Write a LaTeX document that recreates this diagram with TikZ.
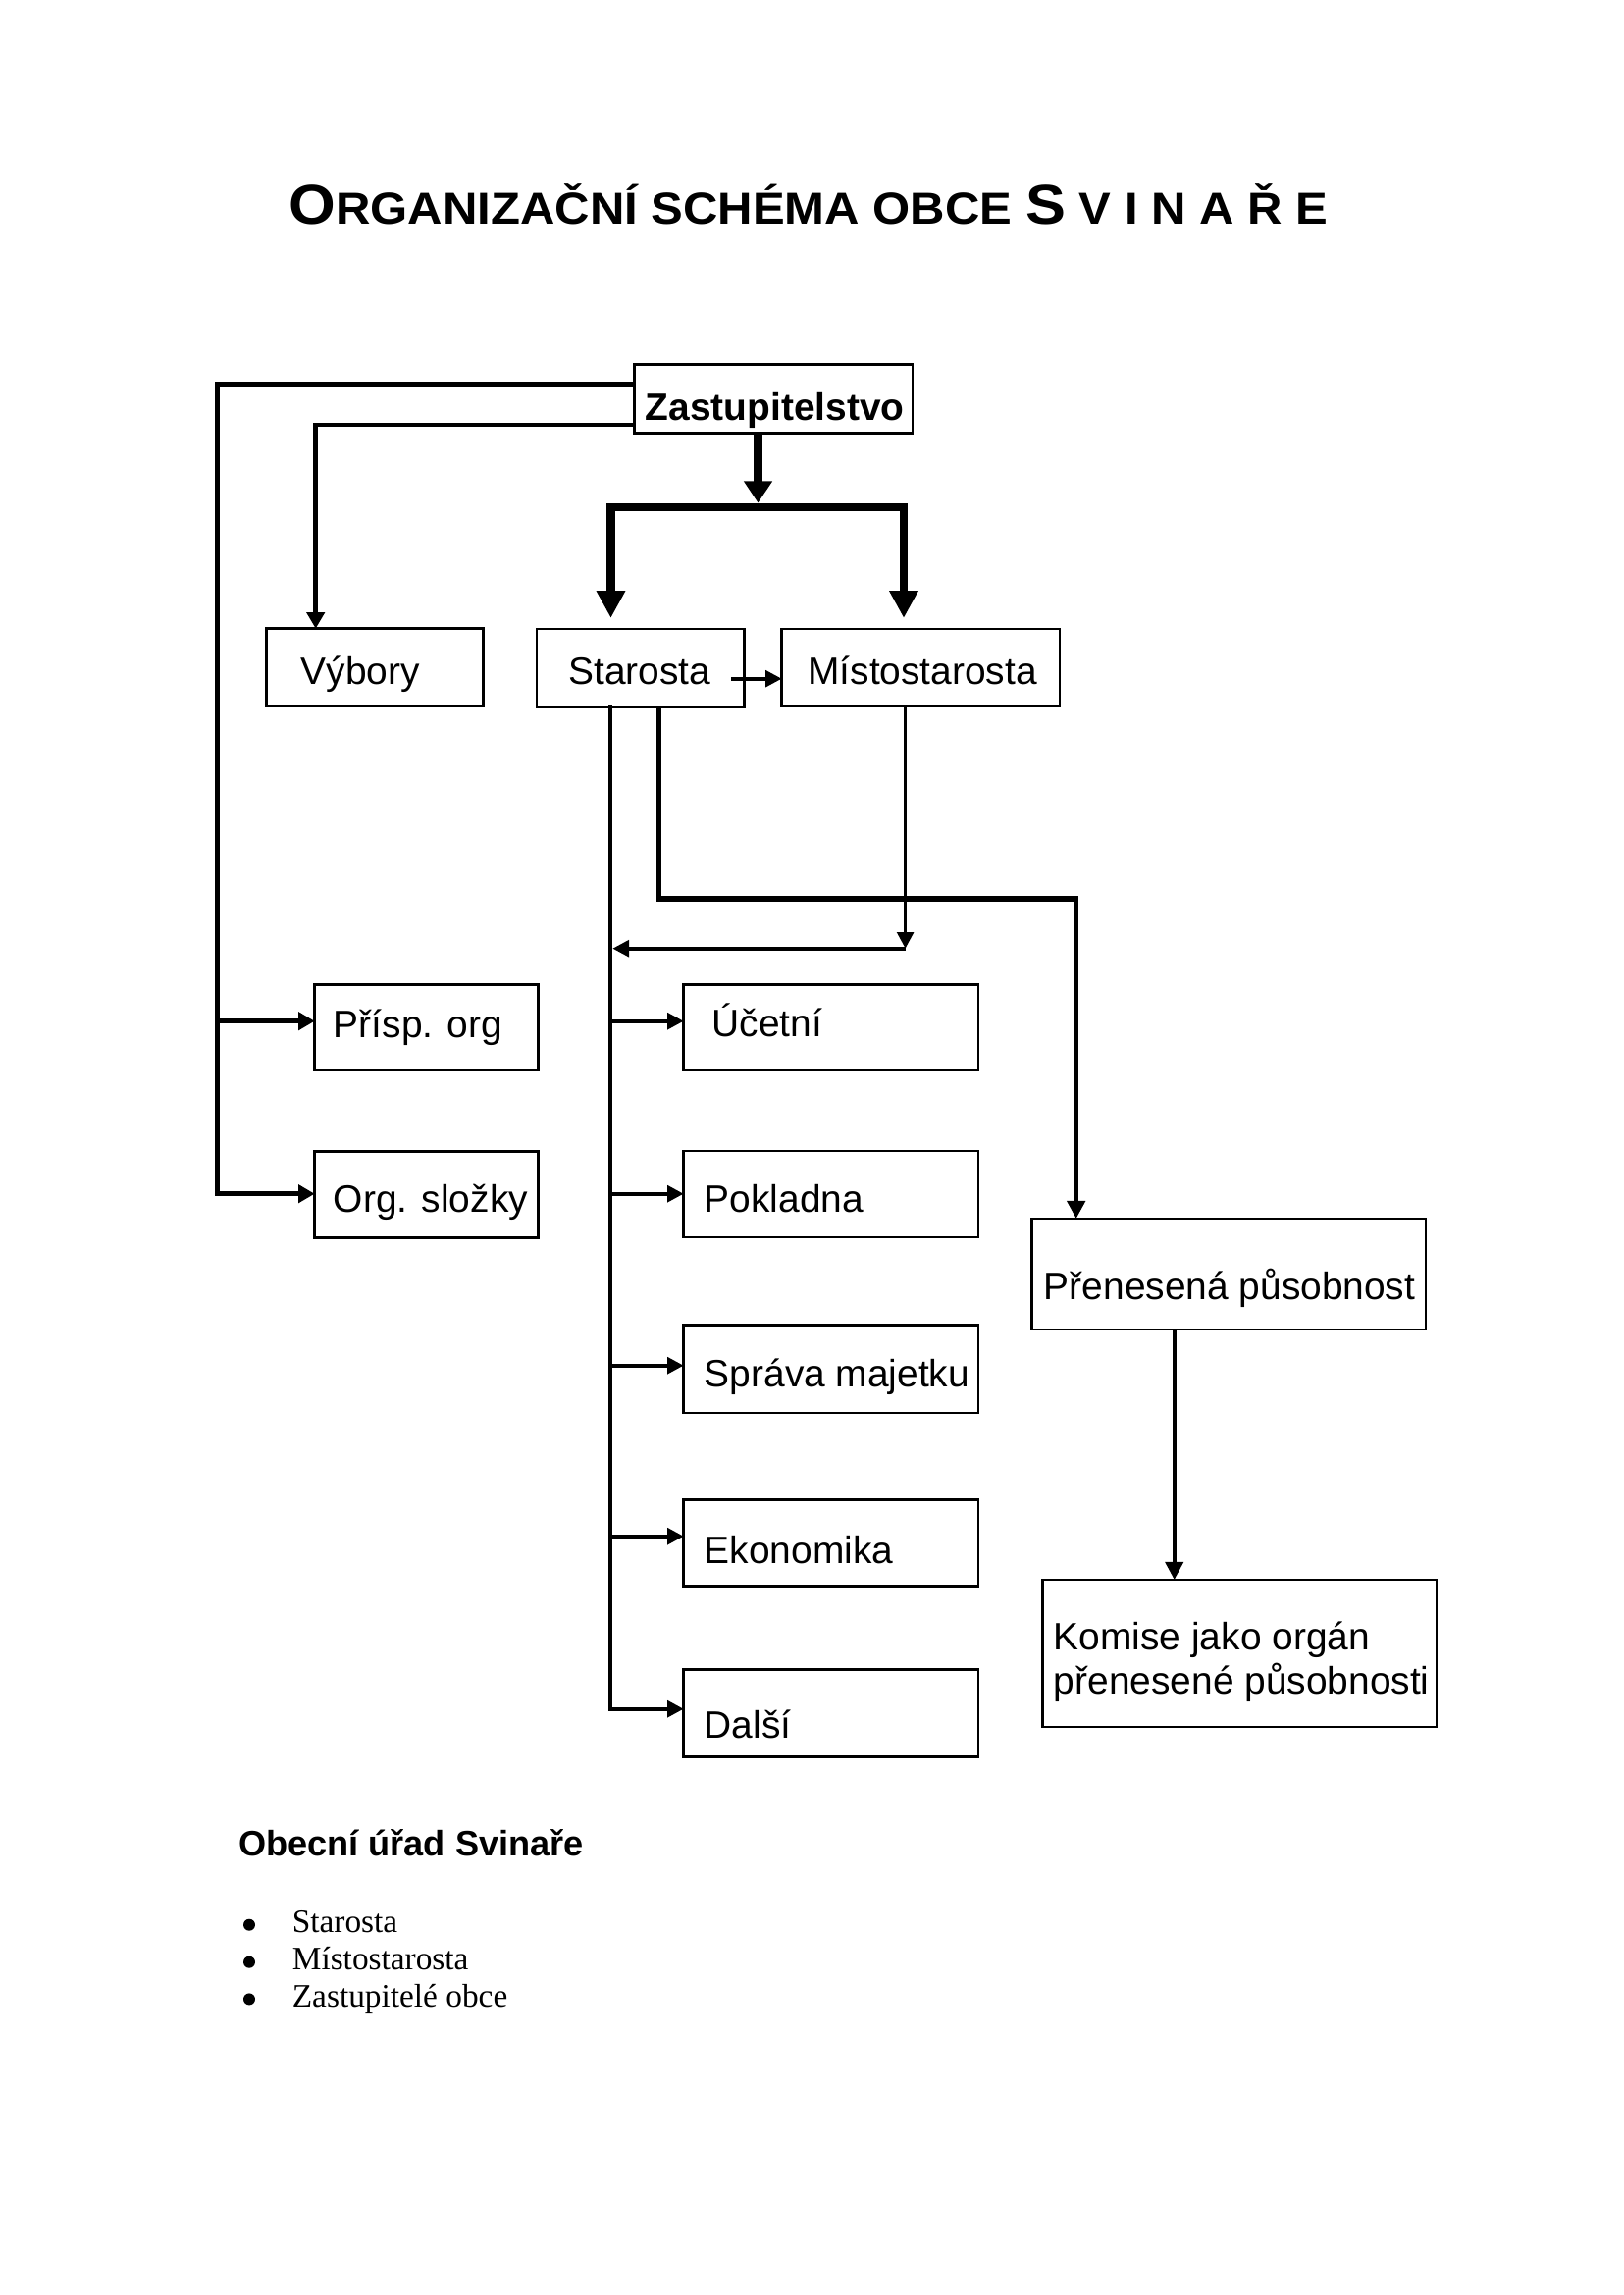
\documentclass[tikz,border=0pt]{standalone}
\usepackage{fontspec}
\setmainfont{Liberation Sans}
\newfontfamily\serifont{Liberation Serif}
\usepackage{graphicx}
\usetikzlibrary{arrows.meta}
\begin{document}
\begin{tikzpicture}[x=0.35991pt,y=-0.35991pt,
  box/.style={draw, line width=1pt, rectangle, inner sep=0pt, outer sep=0pt},
  lbl/.style={anchor=base west, inner sep=0pt, font=\fontsize{14}{16}\selectfont},
  mainln/.style={line width=1.7pt},
  medarr/.style={line width=1.7pt, -{Triangle[length=6pt,width=6.5pt]}},
  brarr/.style={line width=1.4pt, -{Triangle[length=6pt,width=6pt]}},
  thinarr/.style={line width=1.3pt, -{Triangle[length=6pt,width=6pt]}},
  itm/.style={anchor=base west, inner sep=0pt, font=\serifont\fontsize{12}{14}\selectfont},
]
\path[fill=white] (0,0) rectangle (1654,2339);
\useasboundingbox (0,0) rectangle (1654,2339);

% title
\node[anchor=base west, inner sep=0pt] (title) at (294,229)
  {\resizebox{381pt}{1.14\height}{\bfseries\fontsize{18}{20}\selectfont O\fontsize{14.4}{16}\selectfont RGANIZAČNÍ SCHÉMA OBCE \fontsize{18}{20}\selectfont S\fontsize{14.4}{16}\selectfont\ V I N A Ř E}};

% boxes
\node[box, minimum width=101.96pt, minimum height=25.19pt] (Zast) at (788.35,406.7) {};
\node[box, minimum width=79.72pt, minimum height=28.54pt] (Vyb) at (381.95,680.35) {};
\node[box, minimum width=76.05pt, minimum height=28.79pt] (Star) at (652.65,681) {};
\node[box, minimum width=101.96pt, minimum height=28.43pt] (Mist) at (938.35,680.5) {};
\node[box, minimum width=81.92pt, minimum height=31.46pt] (Prisp) at (434.5,1047) {};
\node[box, minimum width=81.92pt, minimum height=31.82pt] (Org) at (434.5,1217.5) {};
\node[box, minimum width=108.08pt, minimum height=31.46pt] (Uc) at (846.85,1047) {};
\node[box, minimum width=108.08pt, minimum height=31.67pt] (Pok) at (846.85,1217) {};
\node[box, minimum width=108.08pt, minimum height=32.14pt] (Spr) at (846.85,1395.35) {};
\node[box, minimum width=108.08pt, minimum height=31.82pt] (Eko) at (846.85,1572.5) {};
\node[box, minimum width=108.08pt, minimum height=32.03pt] (Dal) at (846.85,1746.2) {};
\node[box, minimum width=144.43pt, minimum height=40.67pt] (Pren) at (1252.35,1298.5) {};
\node[box, minimum width=144.43pt, minimum height=53.99pt] (Kom) at (1263.35,1685) {};

% box labels
\node[lbl, font=\bfseries\fontsize{14}{16}\selectfont] (tZast) at (657.3,428.5) {Zastupitelstvo};
\node[lbl] (tVyb) at (306.2,697.5) {Výbory};
\node[lbl] (tStar) at (578.8,697.5) {Starosta};
\node[lbl] (tMist) at (822.8,697.5) {Místostarosta};
\node[lbl] (tPrisp) at (339.3,1057) {Přísp. org};
\node[lbl] (tOrg) at (339.3,1235) {Org. složky};
\node[lbl] (tUc) at (725.2,1056) {Účetní};
\node[lbl] (tPok) at (717.3,1235) {Pokladna};
\node[lbl] (tSpr) at (717.3,1413.3) {Správa majetku};
\node[lbl] (tEko) at (717.3,1593.3) {Ekonomika};
\node[lbl] (tDal) at (717.3,1771.7) {Další};
\node[lbl] (tPren) at (1063.3,1324.3) {Přenesená působnost};
\node[lbl] (tKom1) at (1073.3,1681.4) {Komise jako orgán};
\node[lbl] (tKom2) at (1073.3,1726.4) {přenesené působnosti};

% coordinates
\coordinate (jA) at (221.7,391.7);
\coordinate (jV) at (321.7,433);
\coordinate (yP) at (0,1040.7);
\coordinate (yO) at (0,1216.7);
\coordinate (bL) at (622.5,517);
\coordinate (bR) at (921,517);
\coordinate (bM) at (772.5,517);
\coordinate (sA) at (745.3,691.7);
\coordinate (vS) at (622,1741.7);
\coordinate (s2) at (671.6,916);
\coordinate (s3) at (1096.7,916);
\coordinate (m1) at (922.6,966.7);
\coordinate (k1) at (1196.7,0);
\coordinate (y3) at (0,1391.7);
\coordinate (y4) at (0,1565.7);

% connectors from Zastupitelstvo
\draw[medarr] (Zast.west |- jA) -- (jA) -- (jA |- yO) -- (Org.west |- yO);
\draw[medarr] (jA |- yP) -- (Prisp.west |- yP);
\draw[medarr] (Zast.west |- jV) -- (jV) -- (jV |- Vyb.north);
\draw[line width=3.4pt, -{Triangle[length=8pt,width=10pt]}, shorten >=1.6pt] (Zast.south -| bM) -- (bM);
\draw[line width=3.2pt, {Triangle[length=10pt,width=10pt]}-{Triangle[length=10pt,width=10pt]}, shorten <=4pt, shorten >=4pt]
  (Star.north -| bL) -- (bL) -- (bR) -- (Mist.north -| bR);

% Starosta -> Mistostarosta
\draw[thinarr] (sA) -- (Mist.west |- sA);

% Starosta vertical and branches
\draw[mainln, line cap=rect] (Star.south -| vS) -- (vS);
\draw[brarr] (vS |- yP) -- (Uc.west |- yP);
\draw[brarr] (vS |- yO) -- (Pok.west |- yO);
\draw[brarr] (vS |- y3) -- (Spr.west |- y3);
\draw[brarr] (vS |- y4) -- (Eko.west |- y4);
\draw[brarr] (vS) -- (Dal.west |- vS);

% Starosta -> Prenesena
\draw[line width=2pt, -{Triangle[length=6.5pt,width=6.5pt]}] (Star.south -| s2) -- (s2) -- (s3) -- (s3 |- Pren.north);

% Mistostarosta -> Starosta line
\draw[thinarr] (Mist.south -| m1) -- (m1);
\draw[thinarr, shorten >=0.85pt] (m1) -- (vS |- m1);

% Prenesena -> Komise
\draw[line width=1.4pt, -{Triangle[length=6.5pt,width=6.5pt]}] (Pren.south -| k1) -- (Kom.north -| k1);

% bottom text
\node[anchor=base west, inner sep=0pt, font=\bfseries\fontsize{13}{16}\selectfont] (obu) at (242.7,1891.7) {Obecní úřad Svinaře};
\fill (254,1961.7) circle[radius=6];
\fill (254,1999.7) circle[radius=6];
\fill (254,2037.4) circle[radius=6];
\node[itm] (l1) at (297.3,1969.3) {Starosta};
\node[itm] (l2) at (297.3,2007.3) {Místostarosta};
\node[itm] (l3) at (297.3,2045) {Zastupitelé obce};
\end{tikzpicture}
\end{document}
